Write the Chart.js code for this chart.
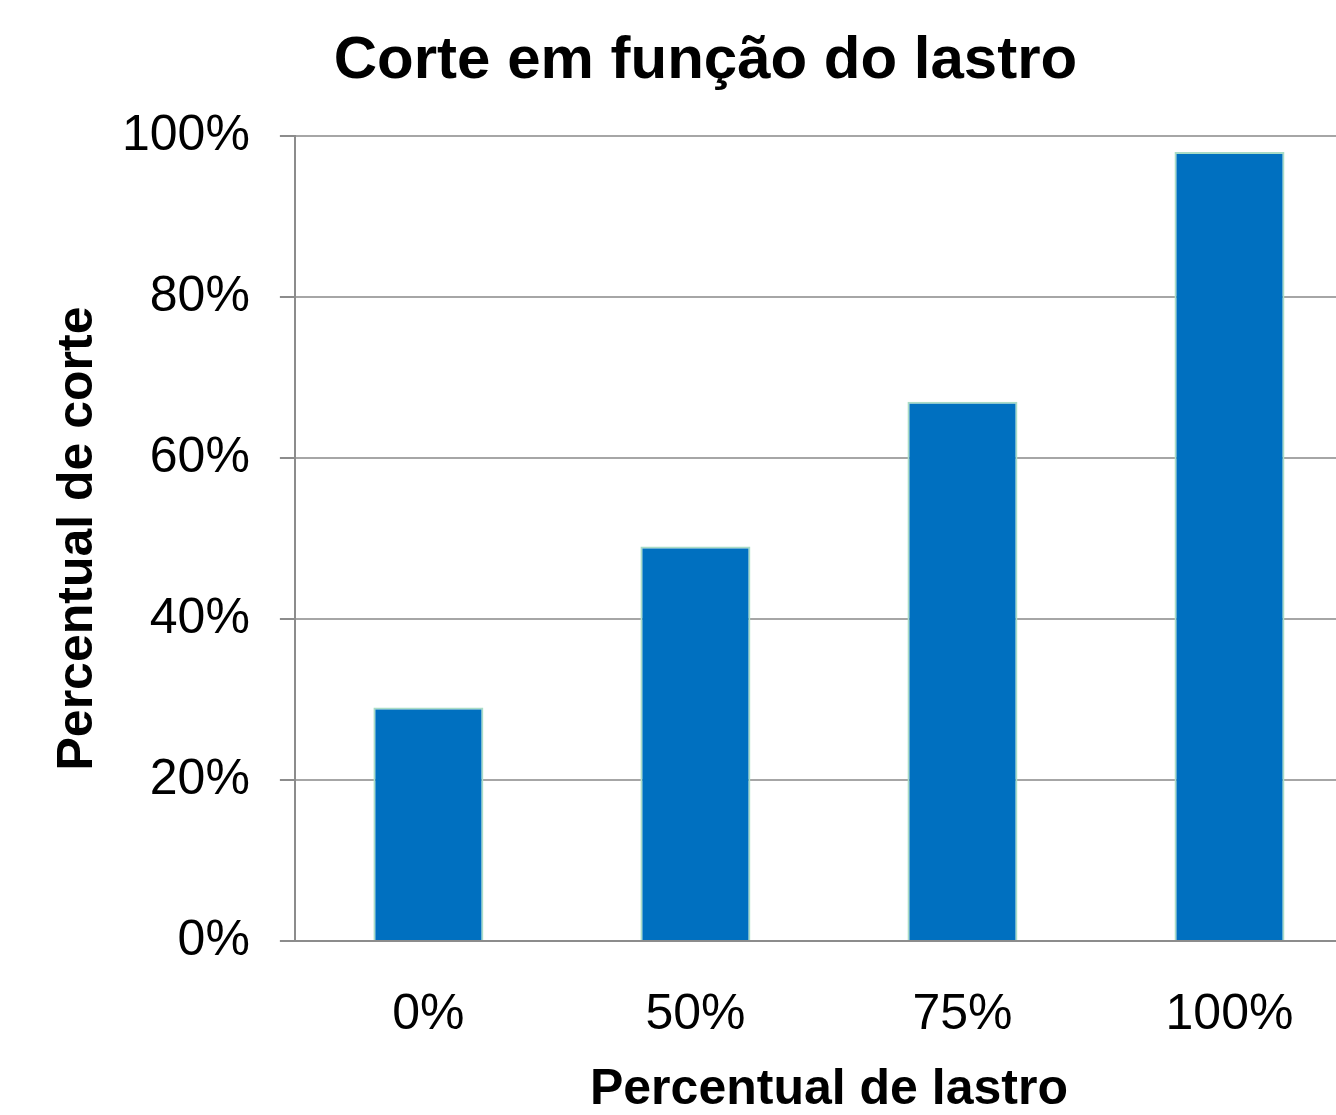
<!DOCTYPE html>
<html lang="pt">
<head>
  <meta charset="UTF-8">
  <title>Corte em função do lastro</title>
  <script src="https://cdn.jsdelivr.net/npm/chart.js"></script>
  <style>
    body {
      margin: 0;
      background: #fff;
      overflow: hidden;
    }
    #wrap {
      width: 1408px;
      height: 1115px;
    }
  </style>
</head>
<body>

  <div id="wrap">
    <canvas id="corteChart" width="1408" height="1115"></canvas>
  </div>

  <script>
    const categorias = ['0%', '50%', '75%', '100%'];
    const corte = [29, 49, 67, 98];

    const fonte = "'Liberation Sans', Arial, sans-serif";

    const ctx = document.getElementById('corteChart').getContext('2d');
    new Chart(ctx, {
      type: 'bar',
      data: {
        labels: categorias,
        datasets: [{
          label: 'Corte',
          data: corte,
          backgroundColor: '#0070c0',
          borderColor: '#a9dcc6',
          borderWidth: 2,
          categoryPercentage: 1,
          barPercentage: 0.412
        }]
      },
      options: {
        responsive: false,
        animation: false,
        layout: {
          padding: { left: 48, right: 45, top: 0, bottom: 0 }
        },
        plugins: {
          legend: { display: false },
          tooltip: { enabled: false },
          title: {
            display: true,
            text: 'Corte em função do lastro',
            color: '#000',
            font: { family: fonte, size: 60, weight: 'bold', lineHeight: 1.2 },
            padding: { top: 25, bottom: 39 }
          }
        },
        scales: {
          x: {
            grid: { display: false, drawTicks: false },
            border: { display: true, color: '#8c8c8c', width: 2 },
            ticks: {
              color: '#000',
              font: { family: fonte, size: 50, lineHeight: 1.2 },
              padding: 44
            },
            title: {
              display: true,
              text: 'Percentual de lastro',
              color: '#000',
              font: { family: fonte, size: 50, weight: 'bold', lineHeight: 1.1 },
              // chart.js counts tick padding twice, so pull the title in
              padding: { top: -26, bottom: -3 }
            }
          },
          y: {
            min: 0,
            max: 100,
            grid: {
              color: '#a6a6a6',
              lineWidth: 2,
              tickLength: 15,
              tickColor: '#8c8c8c'
            },
            border: { display: true, color: '#8c8c8c', width: 2 },
            ticks: {
              stepSize: 20,
              color: '#000',
              font: { family: fonte, size: 50 },
              padding: 30,
              callback: v => v + '%'
            },
            title: {
              display: true,
              text: 'Percentual de corte',
              color: '#000',
              font: { family: fonte, size: 50, weight: 'bold', lineHeight: 1.2 },
              padding: { top: 0, bottom: -16 }
            }
          }
        }
      }
    });
  </script>

</body>
</html>
